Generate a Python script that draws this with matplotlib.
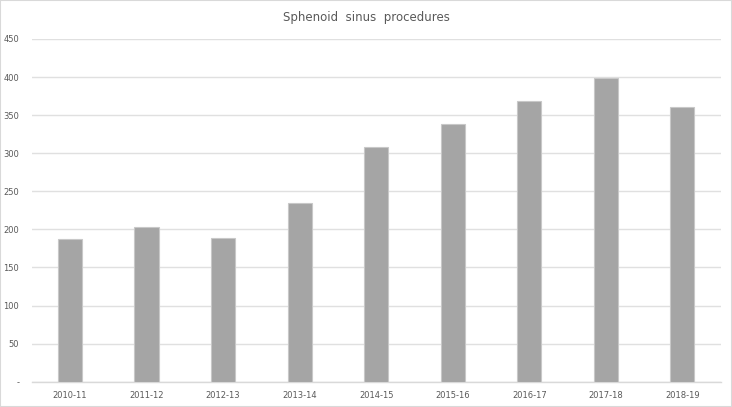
import matplotlib
matplotlib.use("Agg")
import matplotlib.pyplot as plt
from matplotlib.patches import Rectangle
from matplotlib.ticker import FixedLocator, FuncFormatter

categories = ["2010-11", "2011-12", "2012-13", "2013-14", "2014-15",
              "2015-16", "2016-17", "2017-18", "2018-19"]
values = [187, 203, 189, 234, 308, 339, 369, 399, 361]
yticks = [0, 50, 100, 150, 200, 250, 300, 350, 400, 450]

W, H = 732, 407
fig = plt.figure(figsize=(W / 100, H / 100), dpi=100)
ax = fig.add_axes([31.7 / W, 1 - 381.7 / H, (720.7 - 31.7) / W, (381.7 - 39) / H])

x = list(range(len(categories)))
ax.bar(x, values, width=0.315, color="#a5a5a5", edgecolor="#c8c8c8",
       linewidth=0.8, zorder=3)

ax.set_xlim(-0.5, len(categories) - 0.5)
ax.set_ylim(0, 450)
ax.yaxis.set_major_locator(FixedLocator(yticks))
ax.yaxis.set_major_formatter(FuncFormatter(lambda v, p: "-" if v == 0 else f"{int(v)}"))
ax.set_xticks(x)
ax.set_xticklabels(categories)

ax.grid(axis="y", color="#e0e0e0", linewidth=1.0, zorder=0)
for s in ["top", "right", "left"]:
    ax.spines[s].set_visible(False)
ax.spines["bottom"].set_color("#d9d9d9")
ax.spines["bottom"].set_linewidth(1.0)
ax.tick_params(axis="both", length=0, labelsize=6.0, labelcolor="#595959")
ax.tick_params(axis="x", pad=7)
ax.tick_params(axis="y", pad=9)

fig.text(0.5, 1 - 17 / H, "Sphenoid  sinus  procedures", ha="center", va="center",
         fontsize=8.5, color="#595959")

fig.patches.append(Rectangle((0, 0), 1, 1, transform=fig.transFigure, fill=False,
                             edgecolor="#d9d9d9", linewidth=1.5))

fig.savefig("out.png", dpi=100)
